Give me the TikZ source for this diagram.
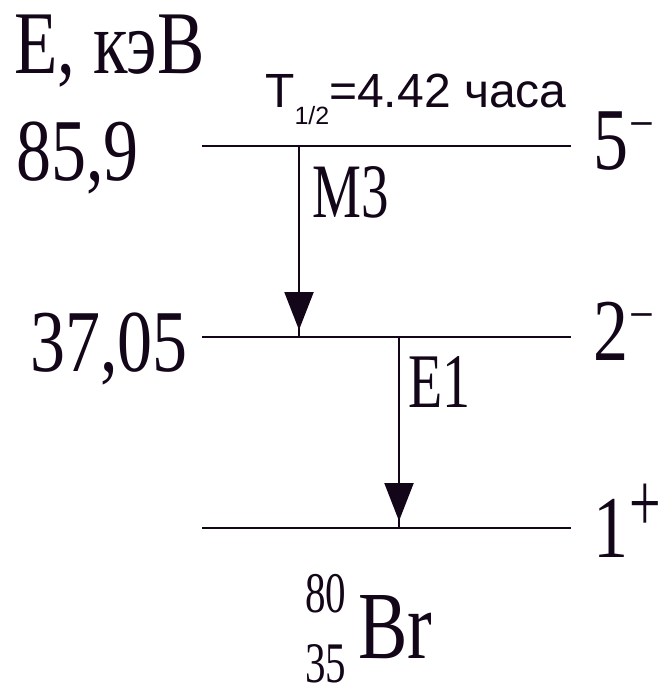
\documentclass[tikz,border=0pt]{standalone}
\usepackage{fontspec}
\usepackage{graphicx}
\setmainfont{Liberation Serif}
\newfontfamily\arialfont{Liberation Sans}
\usetikzlibrary{arrows.meta,calc}
\definecolor{levelink}{RGB}{18,6,24}
\newcommand{\tallt}[3]{\fontsize{#1}{#1}\selectfont\scalebox{1}[#2]{#3}}
\newcommand{\spinlbl}[3]{\tallt{70}{1.26}{#1}\hspace{1pt}\raisebox{#3}{#2}}

\begin{document}
\begin{tikzpicture}[x=1pt,y=-1pt,
  level/.style={draw=levelink,line width=2.8pt},
  trans/.style={draw=levelink,line width=2.2pt},
  gammahead/.style={-{Triangle[width=29pt,length=38pt]},draw=levelink,fill=levelink,line width=2.2pt,shorten >=7pt},
  lbl/.style={inner sep=0pt,anchor=base west,text=levelink}]
  \useasboundingbox (0,0) rectangle (664,687);
  % energy scale
  \node[lbl] (eunit) at (14,74) {\tallt{71}{1.26}{E, кэВ}};
  \node[lbl] (e859) at (16,180) {\tallt{70}{1.26}{85,9}};
  \node[lbl,anchor=base east] (e3705) at (188,371) {\tallt{70}{1.26}{37,05}};
  % levels
  \coordinate (lv5w) at (202,146);
  \coordinate (lv5e) at (571,146);
  \coordinate (lv2w) at (202,337);
  \coordinate (lv2e) at (571,337);
  \coordinate (lv1w) at (202,528);
  \coordinate (lv1e) at (571,528);
  \draw[level] (lv5w) -- (lv5e);
  \draw[level] (lv2w) -- (lv2e);
  \draw[level] (lv1w) -- (lv1e);
  \node[lbl] (spin5) at (593,169) {\spinlbl{5}{\tallt{44}{1.2}{−}}{28pt}};
  \node[lbl] (spin2) at (593,360) {\spinlbl{2}{\tallt{44}{1.2}{−}}{28pt}};
  \node[lbl] (spin1) at (593,557) {\spinlbl{1}{\tallt{56}{1.5}{+}}{26pt}};
  % half-life
  \node[lbl] (thalf) at (265,108) {\arialfont\fontsize{48}{48}\selectfont
    T\raisebox{-17pt}{\fontsize{25}{25}\selectfont 1/2}=4.42 часа};
  % transitions
  \coordinate (m3a) at (299,146);
  \coordinate (m3b) at (299,337);
  \coordinate (e1a) at (399,337);
  \coordinate (e1b) at (399,528);
  \draw[trans] (m3a) -- (m3b);
  \draw[gammahead] (m3a) -- (m3b);
  \draw[trans] (e1a) -- (e1b);
  \draw[gammahead] (e1a) -- (e1b);
  \node[lbl] (m3lbl) at (312,217) {\tallt{55}{1.4}{M3}};
  \node[lbl] (e1lbl) at (408,407) {\tallt{56}{1.38}{E1}};
  % nuclide
  \node[lbl] (massno) at (305,612) {\tallt{41}{1.4}{80}};
  \node[lbl] (chargeno) at (305,682) {\tallt{41}{1.4}{35}};
  \node[lbl] (elem) at (358,658) {\tallt{74}{1.3}{Br}};
\end{tikzpicture}
\end{document}
